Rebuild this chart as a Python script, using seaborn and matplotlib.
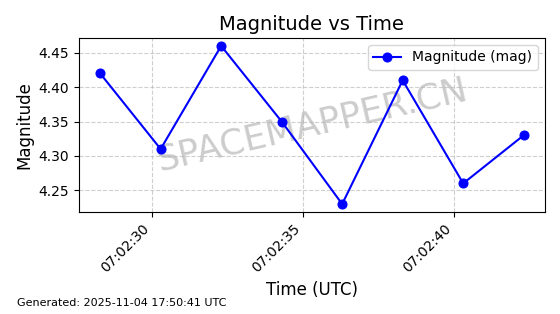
import matplotlib
matplotlib.use("Agg")
import matplotlib.pyplot as plt
import matplotlib.dates as mdates
import seaborn as sns
import pandas as pd

times = ["2025-11-04 07:02:28.3", "2025-11-04 07:02:30.3", "2025-11-04 07:02:32.3",
         "2025-11-04 07:02:34.3", "2025-11-04 07:02:36.3", "2025-11-04 07:02:38.3",
         "2025-11-04 07:02:40.3", "2025-11-04 07:02:42.3"]
magnitudes = [4.42, 4.31, 4.46, 4.35, 4.23, 4.41, 4.26, 4.33]

df = pd.DataFrame({"time": pd.to_datetime(times), "mag": magnitudes})

fig, ax = plt.subplots(figsize=(5.6, 3.14), dpi=100)
sns.lineplot(data=df, x="time", y="mag", ax=ax, color="blue", marker="o",
             markersize=6.5, markeredgecolor="blue", linewidth=1.5, label="Magnitude (mag)")
ax.set_title("Magnitude vs Time", fontsize=14)
ax.set_xlabel("Time (UTC)", fontsize=12)
ax.set_ylabel("Magnitude", fontsize=12)
ax.grid(True, linestyle="--", alpha=0.6)
ax.xaxis.set_major_formatter(mdates.DateFormatter("%H:%M:%S"))
ax.xaxis.set_major_locator(mdates.SecondLocator(bysecond=range(0, 60, 5)))
plt.setp(ax.get_xticklabels(), rotation=45, ha="right")
ax.legend(loc="upper right")
ax.text(0.5, 0.5, "SPACEMAPPER.CN", transform=ax.transAxes, fontsize=25.5,
        color="gray", alpha=0.4, ha="center", va="center", rotation=13, zorder=0)
fig.text(0.03, 0.025, "Generated: 2025-11-04 17:50:41 UTC", fontsize=8)
fig.subplots_adjust(left=0.141, right=0.973, top=0.879, bottom=0.325)
fig.savefig("out.png", dpi=100)
